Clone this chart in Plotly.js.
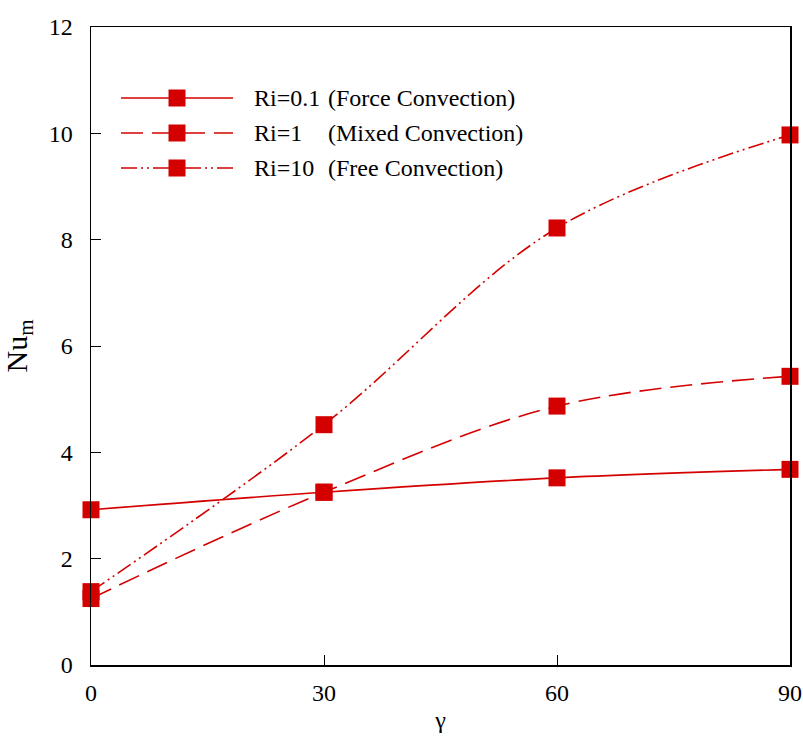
<!DOCTYPE html>
<html>
<head>
<meta charset="utf-8">
<script src="https://cdn.plot.ly/plotly-3.0.1.min.js"></script>
<style>html,body{margin:0;padding:0;background:#fff;}#chart{width:803px;height:738px;}</style>
</head>
<body>
<div id="chart"></div>
<script>
// Data
const gamma = [0, 30, 60, 90];
const nuRi01 = [2.92, 3.25, 3.52, 3.68];
const nuRi1 = [1.25, 3.25, 4.87, 5.43];
const nuRi10 = [1.38, 4.52, 8.22, 9.97];
const seriesNames = ["Ri=0.1", "Ri=1", "Ri=10"];
const seriesDesc = ["(Force Convection)", "(Mixed Convection)", "(Free Convection)"];
const xTicks = [0, 30, 60, 90];
const yTicks = [0, 2, 4, 6, 8, 10, 12];

const red = "#d40000";
const dashes = ["solid", "22px,9px", "16px,4px,2px,4px,2px,4px"];
const seriesY = [nuRi01, nuRi1, nuRi10];

const fontFam = "Liberation Serif";

const traces = seriesY.map((ys, i) => ({
  x: gamma, y: ys, name: seriesNames[i] + " " + seriesDesc[i],
  type: "scatter", mode: "lines+markers",
  line: {color: red, width: 1.6, dash: dashes[i], shape: "spline", smoothing: 1},
  marker: {symbol: "square", size: 17, color: red},
  cliponaxis: false, showlegend: false
}));

// layout geometry (pixels)
const W = 803, H = 738, L = 91, R = 13, T = 27, B = 73;
const pw = W - L - R, ph = H - T - B;
const px = v => (v - L) / pw;
const py = v => (H - B - v) / ph;

const shapes = [];
const annotations = [];
const rowY = [98, 133, 168];
rowY.forEach((yy, i) => {
  shapes.push({type: "line", xref: "paper", yref: "paper",
    x0: px(121), x1: px(233), y0: py(yy), y1: py(yy),
    line: {color: red, width: 1.6, dash: dashes[i]}});
  shapes.push({type: "rect", xref: "paper", yref: "paper",
    x0: px(168.5), x1: px(185.5), y0: py(yy - 8.5), y1: py(yy + 8.5),
    fillcolor: red, line: {width: 0}});
  annotations.push({xref: "paper", yref: "paper", x: px(252), y: py(yy),
    xanchor: "left", yanchor: "middle", showarrow: false, text: seriesNames[i],
    font: {family: fontFam, size: 24, color: "#000"}});
  annotations.push({xref: "paper", yref: "paper", x: px(326), y: py(yy),
    xanchor: "left", yanchor: "middle", showarrow: false, text: seriesDesc[i],
    font: {family: fontFam, size: 24, color: "#000"}});
});

const layout = {
  width: W, height: H,
  margin: {l: L, r: R, t: T, b: B, pad: 0},
  paper_bgcolor: "#fff", plot_bgcolor: "#fff",
  font: {family: fontFam, size: 24, color: "#000"},
  xaxis: {
    range: [0, 90], tickvals: xTicks, ticktext: xTicks.map(String),
    ticks: "inside", ticklen: 10, tickwidth: 1, tickcolor: "#000",
    showline: true, mirror: true, linecolor: "#000", linewidth: 1.5,
    showgrid: false, zeroline: false, ticklabelstandoff: 6,
    tickfont: {family: fontFam, size: 24, color: "#000"},
    title: {text: "γ", font: {family: fontFam, size: 24, color: "#000"}, standoff: 6}
  },
  yaxis: {
    range: [0, 12], tickvals: yTicks, ticktext: yTicks.map(String),
    ticks: "inside", ticklen: 10, tickwidth: 1, tickcolor: "#000",
    showline: true, mirror: true, linecolor: "#000", linewidth: 1.5,
    showgrid: false, zeroline: false, ticklabelstandoff: 12,
    tickfont: {family: fontFam, size: 24, color: "#000"},
    title: {text: "Nu<sub>m</sub>", font: {family: fontFam, size: 30, color: "#000"}, standoff: 17}
  },
  shapes: shapes,
  annotations: annotations,
  showlegend: false
};

Plotly.newPlot("chart", traces, layout, {displayModeBar: false, staticPlot: true});
</script>
</body>
</html>
